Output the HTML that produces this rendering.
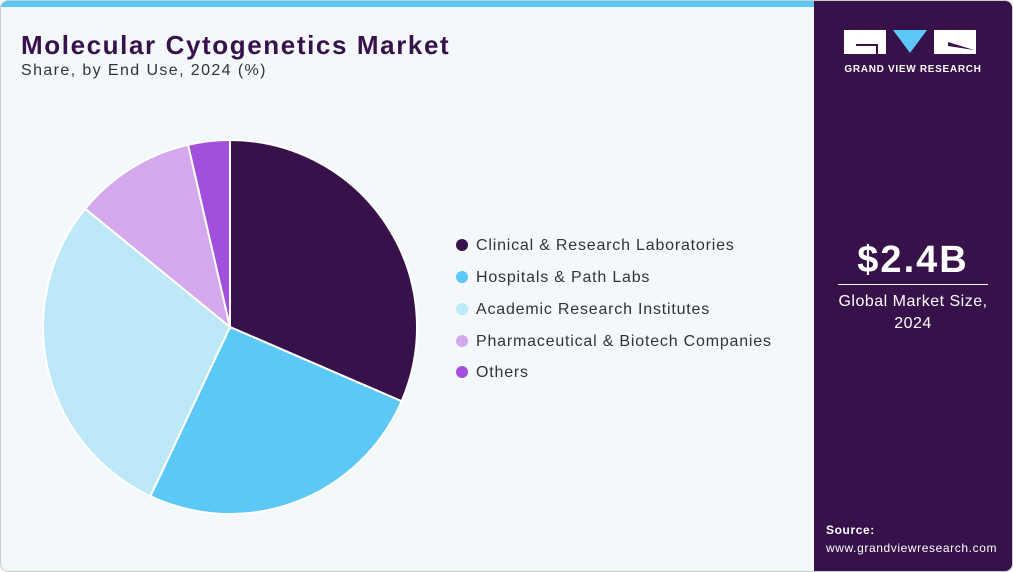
<!DOCTYPE html>
<html><head><meta charset="utf-8"><style>
body{margin:0;width:1013px;height:572px;background:#fff;font-family:"Liberation Sans",sans-serif;overflow:hidden}
#card{position:absolute;left:0;top:0;width:1011px;height:570px;border:1px solid #ccc;border-radius:8px;background:#f3f8fb;overflow:hidden}
#topbar{position:absolute;left:0;top:0;width:813px;height:6px;background:#5bc8f5}
#side{position:absolute;left:813px;top:0;width:198px;height:570px;background:#37114a;color:#fff}
h1{position:absolute;left:20px;top:29px;margin:0;font-size:26px;letter-spacing:1.6px;font-weight:bold;color:#37114a}
#sub{position:absolute;left:20px;top:61px;font-size:16px;letter-spacing:1.4px;color:#333}
.leg{position:absolute;left:455px;font-size:16px;letter-spacing:0.8px;color:#333}
.leg span{display:inline-block;width:12px;height:12px;border-radius:50%;margin-right:8px;vertical-align:-1px}
</style></head><body>
<div id="card">
<div id="topbar"></div>
<h1>Molecular Cytogenetics Market</h1>
<div id="sub">Share, by End Use, 2024 (%)</div>
<svg id="pie" width="813" height="570" style="position:absolute;left:0;top:0"></svg>
<div class="leg" style="top:236px"><span style="background:#37114a"></span>Clinical &amp; Research Laboratories</div>
<div class="leg" style="top:268px"><span style="background:#5bc8f5"></span>Hospitals &amp; Path Labs</div>
<div class="leg" style="top:300px"><span style="background:#bde8f8"></span>Academic Research Institutes</div>
<div class="leg" style="top:332px"><span style="background:#d3a8ec"></span>Pharmaceutical &amp; Biotech Companies</div>
<div class="leg" style="top:363px"><span style="background:#a24fde"></span>Others</div>
<div id="side">
<svg width="198" height="80" style="position:absolute;left:0;top:0">
<rect x="30" y="29" width="42" height="24" fill="#fff"/>
<path d="M42 43 H64 V53 H62 V45 H42Z" fill="#37114a"/>
<polygon points="79,29 113,29 96,52" fill="#5bc8f5"/>
<rect x="120" y="29" width="42" height="24" fill="#fff"/>
<path d="M134 41 L160 49 L134 45Z" fill="#37114a"/>
<text x="99" y="71" font-size="10" font-weight="bold" fill="#fff" text-anchor="middle" letter-spacing="0.7" font-family="Liberation Sans">GRAND VIEW RESEARCH</text>
</svg>
<div style="position:absolute;left:0;width:198px;top:238px;text-align:center;font-size:38px;letter-spacing:2px;font-weight:bold">$2.4B</div>
<div style="position:absolute;left:24px;width:150px;top:283px;height:1px;background:#fff"></div>
<div style="position:absolute;left:0;width:198px;top:290px;text-align:center;font-size:16px;letter-spacing:0.5px;line-height:22px">Global Market Size,<br>2024</div>
<div style="position:absolute;left:12px;top:520px;font-size:12px;letter-spacing:0.6px;line-height:18px"><b>Source:</b><br>www.grandviewresearch.com</div>
</div>
</div>
<script>
const categories=["Clinical & Research Laboratories","Hospitals & Path Labs","Academic Research Institutes","Pharmaceutical & Biotech Companies","Others"];
const shares=[31.5,25.5,28.9,10.5,3.6];
const colors=["#37114a","#5bc8f5","#bde8f8","#d3a8ec","#a24fde"];
const svg=document.getElementById('pie');
const cx=229,cy=326,r=187;
const total=shares.reduce((a,b)=>a+b,0);
function pt(a){return [cx+r*Math.sin(a),cy-r*Math.cos(a)];}
let acc=0;
shares.forEach((v,i)=>{
 const a0=acc/total*2*Math.PI; acc+=v; const a1=acc/total*2*Math.PI;
 const p0=pt(a0),p1=pt(a1);
 const p=document.createElementNS('http://www.w3.org/2000/svg','path');
 p.setAttribute('d',`M${cx},${cy} L${p0[0]},${p0[1]} A${r},${r} 0 ${a1-a0>Math.PI?1:0} 1 ${p1[0]},${p1[1]} Z`);
 p.setAttribute('fill',colors[i]);p.setAttribute('stroke','#fff');p.setAttribute('stroke-width','2');
 
 
 svg.appendChild(p);
});
</script>
</body></html>
